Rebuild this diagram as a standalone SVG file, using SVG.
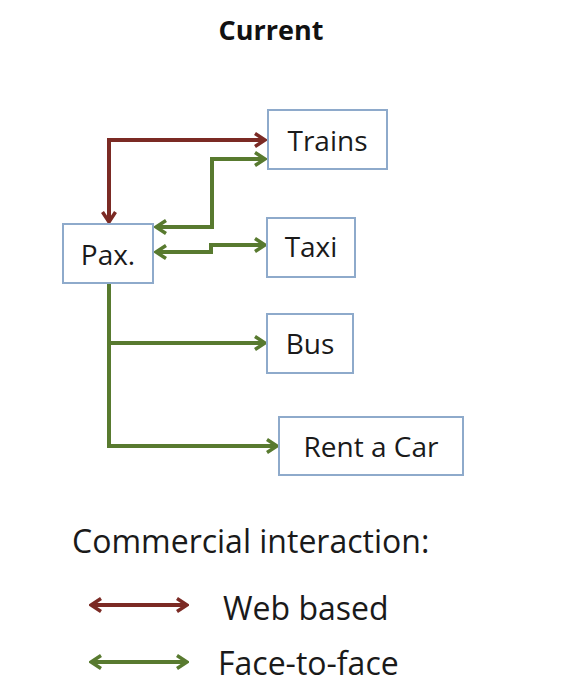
<svg xmlns="http://www.w3.org/2000/svg" width="562" height="698" viewBox="0 0 562 698">
<style>
.box{fill:#ffffff;stroke:#8eaacb;stroke-width:2}
.lbl{font-family:"Open Sans","Liberation Sans",sans-serif;font-size:28px;fill:#1a1a1a}
.leg{font-family:"Open Sans","Liberation Sans",sans-serif;font-size:32px;fill:#1a1a1a}
.red{fill:none;stroke:#7b2a24;stroke-width:4}
.grn{fill:none;stroke:#587a2f;stroke-width:4}
</style>
<defs>
<marker id="ar" viewBox="0 0 14 16" refX="12" refY="8" markerWidth="14" markerHeight="16" markerUnits="userSpaceOnUse" orient="auto-start-reverse">
<path d="M2,1.5 L12,8 L2,14.5" fill="none" stroke="#7b2a24" stroke-width="3.5"/>
</marker>
<marker id="ag" viewBox="0 0 14 16" refX="12" refY="8" markerWidth="14" markerHeight="16" markerUnits="userSpaceOnUse" orient="auto-start-reverse">
<path d="M2,1.5 L12,8 L2,14.5" fill="none" stroke="#587a2f" stroke-width="3.5"/>
</marker>
</defs>
<rect width="562" height="698" fill="#ffffff"/>
<text x="271" y="40" text-anchor="middle" font-family="'Open Sans','Liberation Sans',sans-serif" font-weight="bold" font-size="27" fill="#111">Current</text>
<g id="connectors">
<path class="red" d="M109,222 L109,140 L265,140" marker-start="url(#ar)" marker-end="url(#ar)"/>
<path class="grn" d="M156,227 L212,227 L212,159 L265,159" marker-start="url(#ag)" marker-end="url(#ag)"/>
<path class="grn" d="M156,252 L211,252 L211,245 L265,245" marker-start="url(#ag)" marker-end="url(#ag)"/>
<path class="grn" d="M109,284 L109,446 L277,446" marker-end="url(#ag)"/>
<path class="grn" d="M109,343 L265,343" marker-end="url(#ag)"/>
</g>
<g id="trains"><rect class="box" x="268" y="110" width="119" height="59"/><text class="lbl" x="327.5" y="151" text-anchor="middle">Trains</text></g>
<g id="pax"><rect class="box" x="63" y="224" width="90" height="59"/><text class="lbl" x="108" y="265" text-anchor="middle">Pax.</text></g>
<g id="taxi"><rect class="box" x="267" y="218" width="88" height="59"/><text class="lbl" x="311" y="257" text-anchor="middle">Taxi</text></g>
<g id="bus"><rect class="box" x="267" y="314" width="86" height="59"/><text class="lbl" x="310" y="354" text-anchor="middle">Bus</text></g>
<g id="rentacar"><rect class="box" x="279" y="417" width="184" height="58"/><text class="lbl" x="371" y="457" text-anchor="middle">Rent a Car</text></g>
<g id="legend">
<text class="leg" x="72" y="553">Commercial interaction:</text>
<line class="red" x1="91" y1="605" x2="187" y2="605" marker-start="url(#ar)" marker-end="url(#ar)"/>
<text class="leg" x="223" y="620">Web based</text>
<line class="grn" x1="91" y1="662" x2="187" y2="662" marker-start="url(#ag)" marker-end="url(#ag)"/>
<text class="leg" x="218" y="675">Face-to-face</text>
</g>
</svg>
